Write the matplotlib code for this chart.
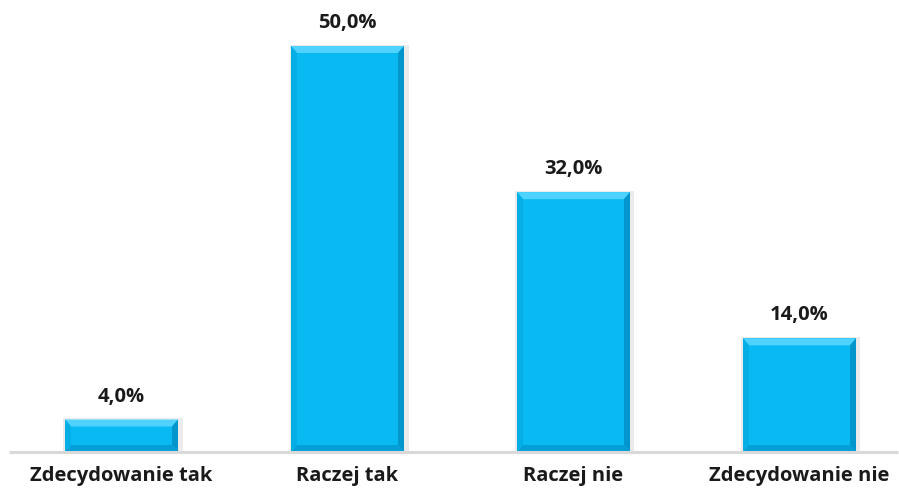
import matplotlib
matplotlib.use("Agg")
from matplotlib import pyplot as plt
from matplotlib.patches import Polygon, Rectangle
import numpy as np

categories = ["Zdecydowanie tak", "Raczej tak", "Raczej nie", "Zdecydowanie nie"]
values = [4.0, 50.0, 32.0, 14.0]
value_labels = ["4,0%", "50,0%", "32,0%", "14,0%"]

W, H = 899, 495
fig = plt.figure(figsize=(W / 100, H / 100), dpi=100)
# plot area: baseline at y=452 px, top at y=0
ax = fig.add_axes([0, 43 / H, 1, 452 / H])

px_x = 226.0          # pixels per category
px_y = 8.12           # pixels per percent
x0_pix = 121.5        # centre of first bar in pixels
ax.set_xlim(-x0_pix / px_x, (W - x0_pix) / px_x)
ax.set_ylim(0, 452 / px_y)
ax.axis("off")

x = np.arange(len(categories))
bw = 113 / px_x
main = "#08B9F2"

# soft shadow behind bars
for xi, v in zip(x, values):
    sx, sy = 3 / px_x, 3 / px_y
    ax.add_patch(Rectangle((xi - bw / 2 - sx / 2, 0), bw + 2 * sx, v + sy / 2,
                           facecolor="#EBEBEB", edgecolor="none", zorder=1))

bars = ax.bar(x, values, width=bw, color=main, edgecolor="none", zorder=2)

bx, by = 6 / px_x, 7 / px_y
for b in bars:
    l = b.get_x()
    r = l + b.get_width()
    h = b.get_height()
    dy = min(by, h / 2)
    top = Polygon([(l, h), (r, h), (r - bx, h - dy), (l + bx, h - dy)],
                  closed=True, facecolor="#4FD2FF", edgecolor="none", zorder=3)
    left = Polygon([(l, 0), (l, h), (l + bx, h - dy), (l + bx, dy)],
                   closed=True, facecolor="#06AEE6", edgecolor="none", zorder=3)
    right = Polygon([(r, 0), (r, h), (r - bx, h - dy), (r - bx, dy)],
                    closed=True, facecolor="#0396CC", edgecolor="none", zorder=3)
    bottom = Polygon([(l, 0), (r, 0), (r - bx, dy), (l + bx, dy)],
                     closed=True, facecolor="#049FD6", edgecolor="none", zorder=3)
    for p in (top, left, right, bottom):
        ax.add_patch(p)

# baseline
ax.plot([(9 - x0_pix) / px_x, (898 - x0_pix) / px_x], [0, 0],
        color="#D9D9D9", linewidth=2.2, zorder=4, solid_capstyle="butt",
        clip_on=False)

font = "Open Sans"
for xi, v, lab in zip(x, values, value_labels):
    ax.text(xi, v + 23 / px_y, lab, ha="center", va="center",
            fontsize=14.5, fontweight="bold", family=font, color="#1A1A1A")

for xi, cat in zip(x, categories):
    ax.text(xi, -24 / px_y, cat, ha="center", va="center",
            fontsize=14.5, fontweight="bold", family=font, color="#1A1A1A",
            clip_on=False)

fig.savefig("out.png", dpi=100)
